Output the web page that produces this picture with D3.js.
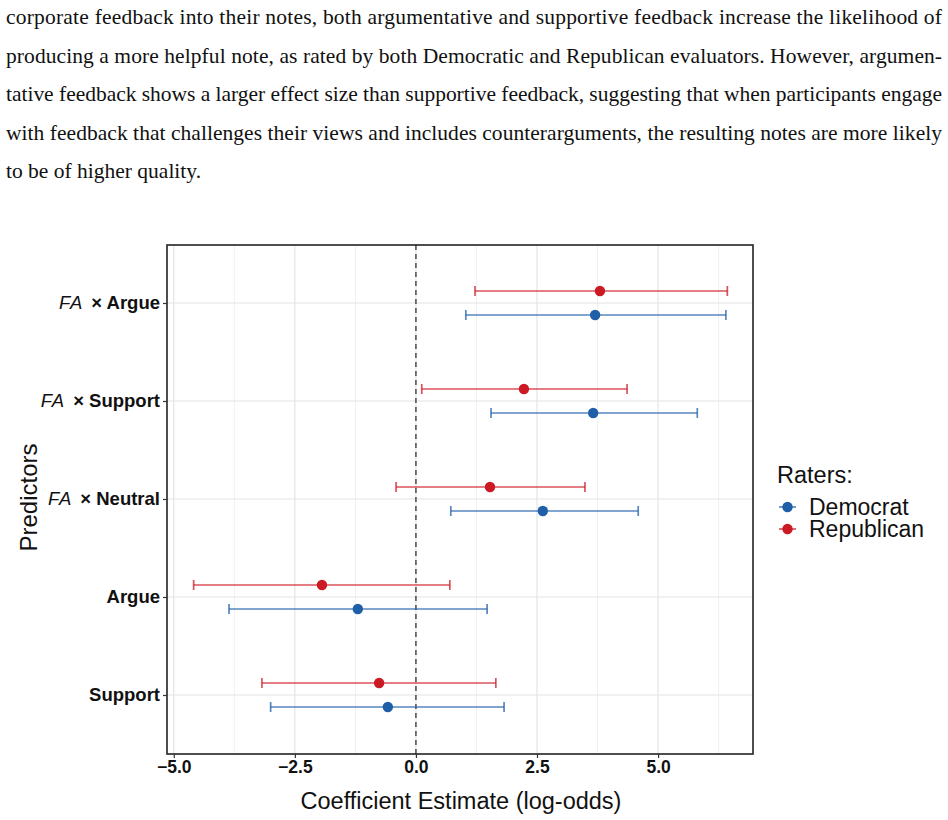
<!DOCTYPE html>
<html>
<head>
<meta charset="utf-8">
<script src="https://cdn.jsdelivr.net/npm/d3@7"></script>
<style>
  body { margin: 0; background: #fff; }
</style>
</head>
<body>
<div id="chart"></div>
<script>
// Paragraph lines above the chart
var paragraphLines = [
  "corporate feedback into their notes, both argumentative and supportive feedback increase the likelihood of",
  "producing a more helpful note, as rated by both Democratic and Republican evaluators. However, argumen-",
  "tative feedback shows a larger effect size than supportive feedback, suggesting that when participants engage",
  "with feedback that challenges their views and includes counterarguments, the resulting notes are more likely",
  "to be of higher quality."
];

// Predictors, top to bottom
var predictors = ["FA × Argue", "FA × Support", "FA × Neutral", "Argue", "Support"];
var raters = ["Democrat", "Republican"];

// Estimates and 95% intervals (in predictor order)
var demEst = [3.70, 3.66, 2.62, -1.20, -0.58];
var demLow = [1.03, 1.55, 0.72, -3.86, -3.00];
var demHigh = [6.40, 5.81, 4.59, 1.47, 1.82];
var repEst = [3.80, 2.23, 1.53, -1.94, -0.76];
var repLow = [1.22, 0.12, -0.41, -4.59, -3.18];
var repHigh = [6.43, 4.36, 3.49, 0.70, 1.65];

var xTicks = [-5, -2.5, 0, 2.5, 5];
var xMinor = [-3.75, -1.25, 1.25, 3.75, 6.25];

var colors = { Democrat: "#1f5fa8", Republican: "#cb1a24" };

// Build rows
var rows = [];
predictors.forEach(function(p, i) {
  rows.push({ pred: p, rater: "Democrat", est: demEst[i], lo: demLow[i], hi: demHigh[i] });
  rows.push({ pred: p, rater: "Republican", est: repEst[i], lo: repLow[i], hi: repHigh[i] });
});

var svgWidth = 948, svgHeight = 820;
var svg = d3.select("#chart").append("svg")
  .attr("width", svgWidth)
  .attr("height", svgHeight);

// Paragraph text (justified)
paragraphLines.forEach(function(line, i) {
  var t = svg.append("text")
    .attr("x", 6)
    .attr("y", 24 + i * 38.5)
    .attr("font-family", "'Liberation Serif', 'DejaVu Serif', serif")
    .attr("font-size", 21.5)
    .attr("fill", "#111")
    .text(line);
  if (i < paragraphLines.length - 1) {
    t.attr("textLength", 936).attr("lengthAdjust", "spacing");
  }
});

// Panel
var panelLeft = 167, panelRight = 753, panelTop = 245, panelBottom = 754;

var x = d3.scaleLinear()
  .domain([-5.14, 6.96])
  .range([panelLeft, panelRight]);

var y = d3.scalePoint()
  .domain(predictors)
  .range([303, 695]);

var dodge = { Democrat: 12, Republican: -12 };

var g = svg.append("g");

// Grid
g.selectAll(".minor")
  .data(xMinor)
  .enter().append("line")
  .attr("x1", d => x(d)).attr("x2", d => x(d))
  .attr("y1", panelTop).attr("y2", panelBottom)
  .attr("stroke", "#f0f0f0").attr("stroke-width", 1);

g.selectAll(".major")
  .data(xTicks)
  .enter().append("line")
  .attr("x1", d => x(d)).attr("x2", d => x(d))
  .attr("y1", panelTop).attr("y2", panelBottom)
  .attr("stroke", "#e4e4e4").attr("stroke-width", 1.2);

g.selectAll(".hgrid")
  .data(predictors)
  .enter().append("line")
  .attr("x1", panelLeft).attr("x2", panelRight)
  .attr("y1", d => y(d)).attr("y2", d => y(d))
  .attr("stroke", "#e4e4e4").attr("stroke-width", 1.2);

// Zero line
g.append("line")
  .attr("x1", x(0)).attr("x2", x(0))
  .attr("y1", panelTop).attr("y2", panelBottom)
  .attr("stroke", "#333").attr("stroke-width", 1.3)
  .attr("stroke-dasharray", "5,4");

// Error bars
var bars = g.selectAll(".bar")
  .data(rows)
  .enter().append("g")
  .attr("stroke", d => colors[d.rater])
  .attr("stroke-opacity", 0.75)
  .attr("stroke-width", 1.7);

bars.append("line")
  .attr("x1", d => x(d.lo)).attr("x2", d => x(d.hi))
  .attr("y1", d => y(d.pred) + dodge[d.rater])
  .attr("y2", d => y(d.pred) + dodge[d.rater]);
bars.append("line")
  .attr("x1", d => x(d.lo)).attr("x2", d => x(d.lo))
  .attr("y1", d => y(d.pred) + dodge[d.rater] - 5)
  .attr("y2", d => y(d.pred) + dodge[d.rater] + 5);
bars.append("line")
  .attr("x1", d => x(d.hi)).attr("x2", d => x(d.hi))
  .attr("y1", d => y(d.pred) + dodge[d.rater] - 5)
  .attr("y2", d => y(d.pred) + dodge[d.rater] + 5);

// Points
g.selectAll(".pt")
  .data(rows)
  .enter().append("circle")
  .attr("cx", d => x(d.est))
  .attr("cy", d => y(d.pred) + dodge[d.rater])
  .attr("r", 5.2)
  .attr("fill", d => colors[d.rater]);

// Panel border
g.append("rect")
  .attr("x", panelLeft).attr("y", panelTop)
  .attr("width", panelRight - panelLeft)
  .attr("height", panelBottom - panelTop)
  .attr("fill", "none")
  .attr("stroke", "#222").attr("stroke-width", 1.6);

// X axis
var xAxis = svg.append("g")
  .attr("transform", `translate(0,${panelBottom})`)
  .call(d3.axisBottom(x).tickValues(xTicks).tickFormat(d3.format(".1f")).tickSize(4).tickPadding(3));
xAxis.select(".domain").remove();
xAxis.selectAll("line").attr("stroke", "#333").attr("stroke-width", 1.2);
xAxis.selectAll("text")
  .attr("font-family", "'Liberation Sans', Arial, sans-serif")
  .attr("font-size", 17.5)
  .attr("font-weight", "bold")
  .attr("fill", "#111");

// Y axis
var yAxis = svg.append("g")
  .attr("transform", `translate(${panelLeft},0)`)
  .call(d3.axisLeft(y).tickSize(4).tickPadding(3));
yAxis.select(".domain").remove();
yAxis.selectAll("line").attr("stroke", "#333").attr("stroke-width", 1.2);
yAxis.selectAll("text")
  .attr("font-family", "'Liberation Sans', Arial, sans-serif")
  .attr("font-size", 18.5)
  .attr("fill", "#111")
  .each(function(d) {
    var t = d3.select(this).text(null);
    var parts = d.split(" × ");
    if (parts.length === 2) {
      t.append("tspan").attr("font-style", "italic").attr("letter-spacing", 1).text(parts[0]);
      t.append("tspan").attr("dx", 8).attr("font-weight", "bold").text("× " + parts[1]);
    } else {
      t.append("tspan").attr("font-weight", "bold").text(d);
    }
  });

// Axis titles
svg.append("text")
  .attr("x", 461)
  .attr("y", 809)
  .attr("text-anchor", "middle")
  .attr("font-family", "'Liberation Sans', Arial, sans-serif")
  .attr("font-size", 23.5)
  .attr("fill", "#111")
  .text("Coefficient Estimate (log-odds)");

svg.append("g")
  .attr("transform", `translate(37, ${(panelTop + panelBottom) / 2 - 2})`)
  .append("text")
  .attr("transform", "rotate(-90)")
  .attr("text-anchor", "middle")
  .attr("font-family", "'Liberation Sans', Arial, sans-serif")
  .attr("font-size", 24)
  .attr("fill", "#111")
  .text("Predictors");

// Legend
var legend = svg.append("g").attr("transform", "translate(777,0)");
legend.append("text")
  .attr("x", 0).attr("y", 483)
  .attr("font-family", "'Liberation Sans', Arial, sans-serif")
  .attr("font-size", 23.5)
  .attr("fill", "#111")
  .text("Raters:");

var items = legend.selectAll(".item")
  .data(raters)
  .enter().append("g")
  .attr("transform", (d, i) => `translate(0, ${507 + i * 22})`);
items.append("line")
  .attr("x1", 2).attr("x2", 19)
  .attr("stroke", d => colors[d]).attr("stroke-opacity", 0.75).attr("stroke-width", 1.7);
items.append("circle")
  .attr("cx", 10.5).attr("cy", 0).attr("r", 5.2)
  .attr("fill", d => colors[d]);
items.append("text")
  .attr("x", 32).attr("y", 8)
  .attr("font-family", "'Liberation Sans', Arial, sans-serif")
  .attr("font-size", 23)
  .attr("fill", "#111")
  .text(d => d);
</script>
</body>
</html>
